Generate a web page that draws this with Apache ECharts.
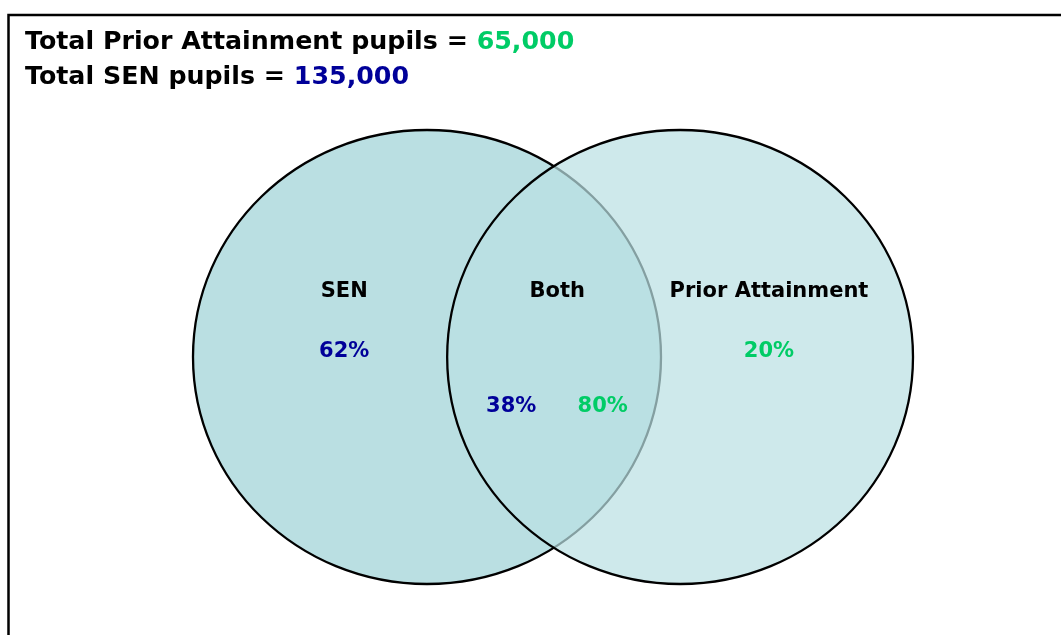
<!DOCTYPE html>
<html>
<head>
<meta charset="utf-8">
<script type="text/javascript" src="https://cdn.jsdelivr.net/npm/echarts/dist/echarts.min.js"></script>
<style>
  html, body { margin: 0; padding: 0; background: #fff; }
</style>
</head>
<body>
<div id="container-venn" style="width:1061px; height:635px;"></div>

<script type="text/javascript">
// totals shown in the header
var totalLabels = ['Total Prior Attainment pupils', 'Total SEN pupils'];
var totalValues = [65000, 135000];

// the two sets (left / right circle) and their extent on the x scale (0..100)
var setNames = ['SEN', 'Prior Attainment'];
var setFrom = [0, 35.3];
var setTo = [65, 100];

// region labels and shares
var regionNames = ['SEN', 'Both', 'Prior Attainment'];
var senShare = [62, 38];   // % of SEN pupils: SEN only, both
var paShare = [80, 20];    // % of Prior Attainment pupils: both, PA only

var GREEN = '#00cc66';
var BLUE = '#000099';
var FONT = 'DejaVu Sans';

var dom = document.getElementById('container-venn');
var myChart = echarts.init(dom);

var circleData = setNames.map(function (n, i) {
	return { name: n, value: [setFrom[i], setTo[i], 0, 100] };
});

var fills = ['#badfe2', 'rgba(186,224,227,0.71)'];

// label points: x, y on the same 0..100 scales
var labelData = [
	{ value: [21, 35.5], name: regionNames[0], color: '#000' },
	{ value: [50.6, 35.5], name: regionNames[1], color: '#000' },
	{ value: [80, 35.5], name: regionNames[2], color: '#000' },
	{ value: [21, 48.7], name: senShare[0] + '%', color: BLUE },
	{ value: [44.2, 61], name: senShare[1] + '%', color: BLUE },
	{ value: [56.9, 61], name: paShare[0] + '%', color: GREEN },
	{ value: [80, 48.7], name: paShare[1] + '%', color: GREEN }
];

function fmt(v) {
	return v.toLocaleString('en-GB');
}

option = {
	animation: false,
	title: {
		left: 20,
		top: 20,
		text: '{a|' + totalLabels[0] + ' = }{g|' + fmt(totalValues[0]) + '}\n' +
			'{a|' + totalLabels[1] + ' = }{b|' + fmt(totalValues[1]) + '}',
		textStyle: {
			rich: {
				a: { fontFamily: FONT, fontWeight: 'bold', fontSize: 25.3, color: '#000', lineHeight: 35 },
				g: { fontFamily: FONT, fontWeight: 'bold', fontSize: 25.3, color: GREEN, lineHeight: 35 },
				b: { fontFamily: FONT, fontWeight: 'bold', fontSize: 25.3, color: BLUE, lineHeight: 35 }
			}
		}
	},
	graphic: [{
		type: 'rect',
		z: 100,
		shape: { x: 8.5, y: 15, width: 1200, height: 800 },
		style: { fill: 'none', stroke: '#000', lineWidth: 2.5 }
	}],
	grid: { left: 193, right: 148, top: 130, bottom: 51 },
	xAxis: { type: 'value', min: 0, max: 100, show: false },
	yAxis: { type: 'value', min: 0, max: 100, inverse: true, show: false },
	series: [{
		type: 'custom',
		data: circleData,
		renderItem: function (params, api) {
			var p0 = api.coord([api.value(0), api.value(2)]);
			var p1 = api.coord([api.value(1), api.value(3)]);
			return {
				type: 'ellipse',
				shape: {
					cx: (p0[0] + p1[0]) / 2,
					cy: (p0[1] + p1[1]) / 2,
					rx: Math.abs(p1[0] - p0[0]) / 2,
					ry: Math.abs(p1[1] - p0[1]) / 2
				},
				style: { fill: fills[params.dataIndex], stroke: '#000', lineWidth: 2.3 }
			};
		}
	}, {
		type: 'custom',
		z: 10,
		data: labelData.map(function (d) { return { value: d.value, name: d.name }; }),
		renderItem: function (params, api) {
			var p = api.coord([api.value(0), api.value(1)]);
			var d = labelData[params.dataIndex];
			return {
				type: 'text',
				x: p[0],
				y: p[1],
				style: {
					text: d.name,
					fill: d.color,
					font: 'bold 21px "DejaVu Sans"',
					align: 'center',
					verticalAlign: 'middle'
				}
			};
		}
	}]
};

if (option && typeof option === 'object') {
	myChart.setOption(option, true);
}
</script>
</body>
</html>
